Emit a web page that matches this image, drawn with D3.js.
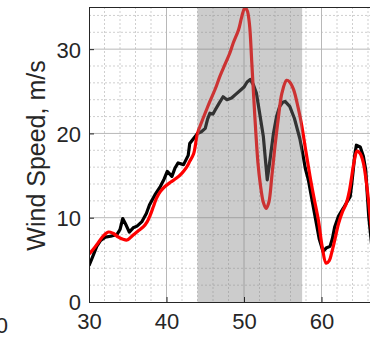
<!DOCTYPE html>
<html>
<head>
<meta charset="utf-8">
<script src="https://cdn.jsdelivr.net/npm/d3@7"></script>
<style>
  html, body { margin: 0; padding: 0; background: #fff; }
  svg { display: block; font-family: "Liberation Sans", Arial, sans-serif; }
</style>
</head>
<body>
<div id="chart"></div>
<script>
// measured wind speed (black)
const measuredX = [30.0, 30.4, 31.0, 31.5, 32.1, 32.8, 33.6, 34.0, 34.35, 34.8, 35.2, 35.7, 36.2, 36.8, 37.4, 37.8, 38.5, 39.2, 39.7, 40.1, 40.7, 41.1, 41.5, 42.2, 42.8, 43.0, 43.5, 44.0, 44.5, 45.0, 45.3, 45.6, 46.0, 46.3, 46.8, 47.3, 47.8, 48.4, 49.0, 49.5, 50.0, 50.4, 50.8, 51.2, 51.6, 52.0, 52.5, 52.8, 53.0, 53.3, 53.8, 54.2, 54.6, 55.0, 55.3, 55.9, 56.5, 57.2, 57.6, 57.9, 58.3, 58.7, 59.2, 59.7, 60.2, 60.6, 61.1, 61.4, 61.7, 62.2, 62.8, 63.3, 63.7, 63.9, 64.1, 64.3, 64.5, 65.0, 65.4, 65.7, 66.1, 66.5];
const measuredY = [4.3, 5.2, 6.6, 7.3, 7.7, 7.8, 8.0, 8.6, 9.9, 9.1, 8.3, 8.8, 9.0, 9.5, 10.5, 11.5, 12.7, 13.7, 14.6, 15.5, 14.9, 15.9, 16.5, 16.3, 17.4, 18.8, 19.4, 20.0, 20.2, 20.6, 21.7, 22.4, 22.3, 22.8, 23.6, 24.35, 24.0, 24.2, 24.7, 25.1, 25.5, 26.1, 26.4, 25.8, 24.8, 22.5, 19.6, 16.5, 14.5, 16.5, 20.0, 22.0, 23.2, 23.7, 23.8, 23.2, 21.8, 19.4, 17.5, 15.9, 14.5, 12.5, 10.0, 7.5, 6.0, 6.4, 6.6, 7.5, 8.9, 10.2, 11.1, 11.9, 12.5, 14.0, 15.7, 17.5, 18.6, 18.4, 17.3, 15.7, 10.1, 6.5];

// modelled wind speed (red)
const modelX = [30.0, 30.5, 31.0, 31.8, 32.5, 33.1, 33.8, 34.4, 34.9, 35.7, 36.3, 37.0, 37.5, 37.9, 38.3, 38.7, 39.2, 39.8, 40.5, 41.3, 42.0, 42.6, 43.0, 43.5, 44.0, 44.6, 45.2, 45.6, 46.3, 46.9, 47.6, 48.2, 48.6, 49.3, 49.7, 50.1, 50.4, 50.7, 51.0, 51.4, 51.8, 52.1, 52.5, 52.85, 53.2, 53.6, 54.0, 54.4, 54.9, 55.5, 55.9, 56.4, 57.0, 57.4, 58.0, 58.5, 59.0, 59.6, 60.1, 60.6, 61.0, 61.3, 61.7, 62.2, 62.7, 63.2, 63.6, 63.9, 64.2, 64.6, 65.0, 65.4, 65.8, 66.3, 66.6];
const modelY = [5.66, 6.2, 6.8, 7.8, 8.3, 8.15, 7.7, 7.44, 7.35, 7.95, 8.4, 8.9, 9.5, 10.3, 11.3, 12.3, 13.1, 13.7, 14.2, 14.7, 15.3, 16.0, 16.7, 17.6, 20.0, 21.5, 22.9, 23.8, 25.3, 26.8, 28.3, 29.6, 30.7, 32.3, 33.8, 34.9, 34.6, 33.0, 28.5, 22.0, 16.5, 14.0, 11.8, 11.1, 11.8, 15.0, 18.5, 21.6, 24.8, 26.3, 26.1, 25.2, 23.0, 21.2, 17.8, 15.0, 12.5, 9.7, 6.5, 4.6, 4.9, 5.8, 7.3, 9.3, 10.7, 11.7, 13.2, 14.9, 16.6, 17.9, 17.6, 16.5, 14.1, 10.0, 7.0];

const shadeRange = [44.0, 57.5];
const xTicks = [30, 40, 50, 60];
const xGrid = [40, 50, 60, 70];
const yTicks = [0, 10, 20, 30];
const xMinor = d3.range(30, 71, 2);
const yMinor = d3.range(0, 35.1, 2);

const W = 370, H = 337;
const plot = { left: 89, top: 7, bottom: 302, right: 399 };

const x = d3.scaleLinear().domain([30, 70]).range([plot.left, plot.right]);
const y = d3.scaleLinear().domain([0, 35]).range([plot.bottom, plot.top]);

const svg = d3.select('#chart').append('svg')
  .attr('width', W).attr('height', H);

svg.append('defs').append('clipPath').attr('id', 'plot-clip')
  .append('rect')
  .attr('x', plot.left).attr('y', plot.top)
  .attr('width', plot.right - plot.left).attr('height', plot.bottom - plot.top);

const g = svg.append('g').attr('clip-path', 'url(#plot-clip)');

// minor grid (dotted)
g.selectAll('.vminor').data(xMinor.filter(d => d % 10 !== 0)).enter()
  .append('line')
  .attr('x1', d => x(d)).attr('x2', d => x(d))
  .attr('y1', plot.top).attr('y2', plot.bottom)
  .attr('stroke', '#cfcfcf').attr('stroke-width', 1)
  .attr('stroke-dasharray', '2,2');
g.selectAll('.hminor').data(yMinor.filter(d => d % 10 !== 0)).enter()
  .append('line')
  .attr('x1', plot.left).attr('x2', plot.right)
  .attr('y1', d => y(d)).attr('y2', d => y(d))
  .attr('stroke', '#cfcfcf').attr('stroke-width', 1)
  .attr('stroke-dasharray', '2,2');

// major grid
g.selectAll('.vmajor').data(xGrid).enter()
  .append('line')
  .attr('x1', d => x(d)).attr('x2', d => x(d))
  .attr('y1', plot.top).attr('y2', plot.bottom)
  .attr('stroke', '#b8b8b8').attr('stroke-width', 1);
g.selectAll('.hmajor').data(yTicks.slice(1)).enter()
  .append('line')
  .attr('x1', plot.left).attr('x2', plot.right)
  .attr('y1', d => y(d)).attr('y2', d => y(d))
  .attr('stroke', '#b8b8b8').attr('stroke-width', 1);

const measured = measuredX.map((v, i) => [v, measuredY[i]]);
const model = modelX.map((v, i) => [v, modelY[i]]);

const lineLinear = d3.line().x(d => x(d[0])).y(d => y(d[1]));
const lineSmooth = d3.line().x(d => x(d[0])).y(d => y(d[1])).curve(d3.curveCatmullRom.alpha(0.5));

g.append('path').datum(measured)
  .attr('fill', 'none').attr('stroke', '#000').attr('stroke-width', 3.2)
  .attr('stroke-linejoin', 'round')
  .attr('d', lineLinear);

g.append('path').datum(model)
  .attr('fill', 'none').attr('stroke', '#ff0000').attr('stroke-width', 3.2)
  .attr('stroke-linejoin', 'round')
  .attr('d', lineSmooth);

// translucent shaded interval on top of the data
g.append('rect')
  .attr('x', x(shadeRange[0])).attr('y', plot.top)
  .attr('width', x(shadeRange[1]) - x(shadeRange[0]))
  .attr('height', plot.bottom - plot.top)
  .attr('fill', '#808080').attr('fill-opacity', 0.4);

// axes box
const axisColor = '#262626';
svg.append('line')
  .attr('x1', plot.left).attr('x2', plot.right)
  .attr('y1', plot.top + 0.5).attr('y2', plot.top + 0.5)
  .attr('stroke', axisColor).attr('stroke-width', 1);

const xAxis = svg.append('g')
  .attr('transform', `translate(0,${plot.bottom})`)
  .call(d3.axisBottom(x).tickValues(xTicks).tickSizeInner(-5).tickSizeOuter(0).tickPadding(10));
const yAxis = svg.append('g')
  .attr('transform', `translate(${plot.left},0)`)
  .call(d3.axisLeft(y).tickValues(yTicks).tickSizeInner(-5).tickSizeOuter(0).tickPadding(8));

[xAxis, yAxis].forEach(a => {
  a.select('.domain').attr('stroke', axisColor);
  a.selectAll('.tick line').attr('stroke', axisColor);
  a.selectAll('text')
    .attr('fill', axisColor)
    .attr('font-size', '22px')
    .attr('font-family', '"Liberation Sans", Arial, sans-serif');
});
xAxis.selectAll('text').attr('dy', '0.75em');
yAxis.selectAll('text').attr('dy', '0.36em');

// y axis title
svg.append('text')
  .attr('transform', `translate(45,${(plot.top + plot.bottom) / 2 + 1}) rotate(-90)`)
  .attr('text-anchor', 'middle')
  .attr('fill', axisColor)
  .attr('font-size', '25px')
  .text('Wind Speed, m/s');

// clipped tick label of the neighbouring panel, cut at the left edge as in the reference
svg.append('text')
  .attr('x', 8).attr('y', 333)
  .attr('text-anchor', 'end')
  .attr('fill', axisColor)
  .attr('font-size', '22px')
  .text('20');
</script>
</body>
</html>
